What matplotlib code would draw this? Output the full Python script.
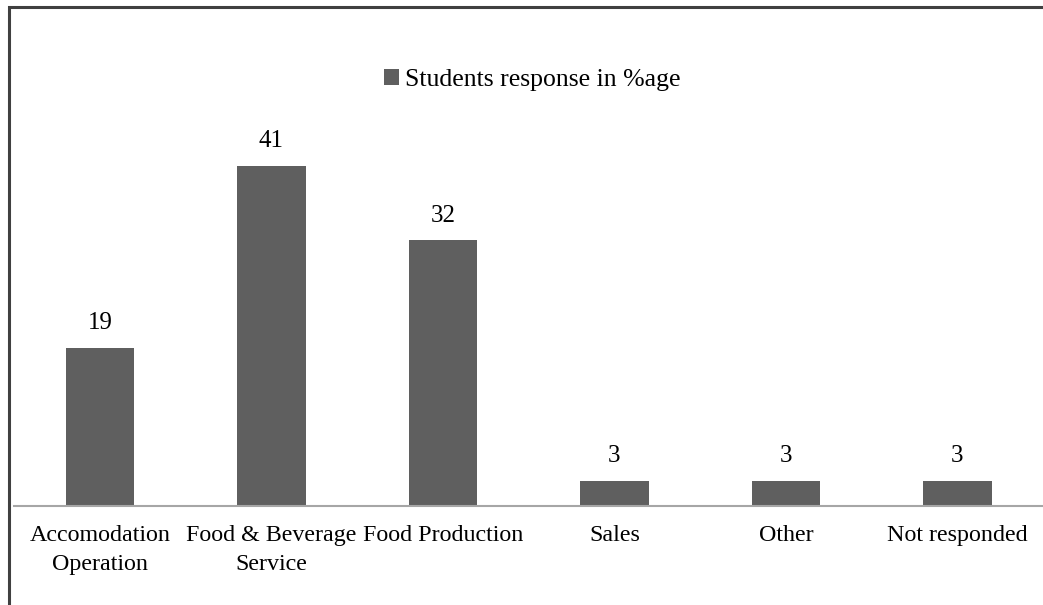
import matplotlib.pyplot as plt
from matplotlib.patches import Rectangle

categories = ['Accomodation\nOperation', 'Food & Beverage\nService', 'Food Production',
              'Sales', 'Other', 'Not responded']
responses = [19, 41, 32, 3, 3, 3]
series_name = 'Students response in %age'

plt.rcParams['font.family'] = ['Liberation Serif', 'DejaVu Serif']

W, H = 1043, 605
fig = plt.figure(figsize=(W / 100, H / 100), dpi=100)

# outer frame (open at right and bottom)
fig.patches.append(Rectangle((8.5 / W, -0.1), 1.2, (H - 6.5) / H + 0.1,
                             transform=fig.transFigure, fill=False,
                             edgecolor='#404040', linewidth=2.2))

ax = fig.add_axes([14.3 / W, 99 / H, (W - 14.3) / W, 373.5 / H])
x = range(len(categories))
bars = ax.bar(x, responses, width=0.4, color='#5f5f5f', label=series_name)
for b, v in zip(bars, responses):
    ax.annotate(str(v), (b.get_x() + b.get_width() / 2, v), xytext=(0, 10),
                textcoords='offset points', ha='center', va='bottom', fontsize=18)

ax.set_xlim(-0.5, 5.5)
ax.set_ylim(0, 45)
ax.set_xticks(list(x))
ax.set_xticklabels(categories, fontsize=17.3, linespacing=1.45)
ax.tick_params(axis='x', length=0, pad=14)
ax.set_yticks([])
for s in ['left', 'right', 'top']:
    ax.spines[s].set_visible(False)
ax.spines['bottom'].set_color('#a6a6a6')
ax.spines['bottom'].set_linewidth(1.5)

fig.legend(loc='center', bbox_to_anchor=(532 / W, 1 - 80 / H), frameon=False,
           fontsize=18.5, handlelength=0.6, handleheight=0.6, handletextpad=0.2)

fig.savefig('out.png', dpi=100)
